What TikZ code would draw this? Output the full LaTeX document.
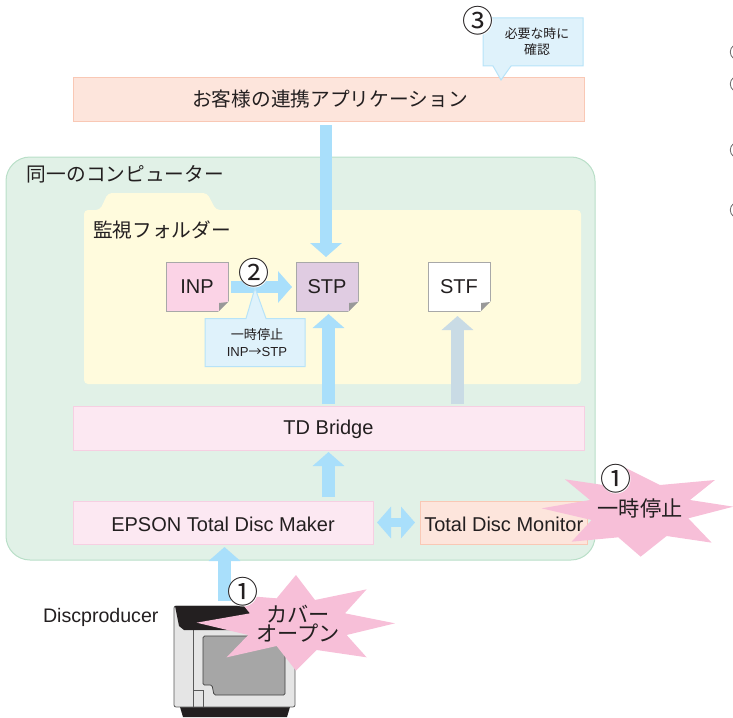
\documentclass[tikz,border=0pt]{standalone}
\usepackage{fontspec}
\setmainfont{Liberation Sans}
\newfontfamily\jp{Noto Sans CJK JP}
\usetikzlibrary{arrows.meta,calc}
\definecolor{ink}{HTML}{231F20}
\definecolor{arrowblue}{HTML}{A9DFFB}
\definecolor{arrowgrey}{HTML}{C9DBE5}
\definecolor{green1}{HTML}{E1F1E7}
\definecolor{green2}{HTML}{B9DFC8}
\definecolor{yellow1}{HTML}{FFFBDD}
\definecolor{peach1}{HTML}{FDE5DC}
\definecolor{peach2}{HTML}{F9C8B5}
\definecolor{pink1}{HTML}{FCE8F2}
\definecolor{pink2}{HTML}{F6CFE2}
\definecolor{inpfill}{HTML}{FBD3E6}
\definecolor{stpfill}{HTML}{E0CCE2}
\definecolor{callfill}{HTML}{DFF2FB}
\definecolor{callline}{HTML}{B7E3F8}
\definecolor{starpink}{HTML}{F7BFD8}
\tikzset{
  x=1pt,y=-1pt,
  every node/.style={inner sep=0pt,outer sep=0pt,text=ink,font=\fontsize{20}{22}\selectfont},
  barbox/.style={rectangle,draw=#1,line width=1pt,anchor=north west,align=center},
  docbox/.style={rectangle,draw=black!34,line width=1pt,anchor=north west,minimum width=62pt,minimum height=49pt},
  jptext/.style={font=\jp\fontsize{19.7}{21}\selectfont,anchor=west},
  startext/.style={font=\jp\fontsize{21.2}{17.5}\selectfont,align=center},
  numdot/.style={circle,fill=white,inner sep=-8pt,minimum size=29pt,font=\jp\fontsize{31}{31}\selectfont},
  bigarrow/.style={draw=#1,line width=12.5pt,-{Triangle[length=14pt,width=31pt,color=#1]}},
  bothway/.style={draw=arrowblue,line width=9pt,{Triangle[length=14pt,width=31pt,color=arrowblue]}-{Triangle[length=14pt,width=31pt,color=arrowblue]}},
}
\begin{document}
\begin{tikzpicture}
\useasboundingbox (0,0) rectangle (733,717);
\clip (0,0) rectangle (733,717);
% right-hand cropped marks
\foreach \yy in {52,84,150,210}
  \draw[ink!70,line width=.8pt] (734,\yy-7) .. controls (729,\yy-3) and (729,\yy+3) .. (734,\yy+7);
% computer panel
\node[barbox=green2,fill=green1,rounded corners=24pt,minimum width=589pt,minimum height=403pt] (pc) at (6,157) {};
\node[jptext] (pclabel) at (27,174) {同一のコンピューター};
% folder
\fill[yellow1,rounded corners=4pt] (84,210) -- (100,210) -- (108,193) -- (207,193) -- (216,210) -- (581,210) -- (581,384) -- (84,384) -- cycle;
\node[jptext] (folderlabel) at (93,230) {監視フォルダー};
% application
\node[barbox=peach2,fill=peach1,minimum width=511pt,minimum height=44pt,font=\jp\fontsize{19.7}{21}\selectfont] (app) at (73,77) {\hspace{3pt}お客様の連携アプリケーション};
% callout 3
\fill[callfill,draw=callline,line width=1pt,line join=miter] (483,18) -- (583,18) -- (583,66) -- (511,66) -- (501,80) -- (493,66) -- (483,66) -- cycle;
\node[font=\jp\fontsize{12.9}{16}\selectfont,align=center] (cap3) at (537,42) {必要な時に\\確認};
\node[numdot] (n3) at (478,21) {③};
% documents
\node[docbox,fill=inpfill] (inp) at (166,262) {INP};
\node[docbox,fill=stpfill] (stp) at (296,262) {STP};
\node[docbox,fill=white] (stf) at (428,262) {STF};
\foreach \d in {inp,stp,stf}{
  \fill[yellow1] (\d.south east) ++(1,1) -- ++(0,-11) -- ++(-11,11) -- cycle;
  \fill[black!40] (\d.south east) ++(0,-9) -- ++(-9,1) -- ++(0,8) -- cycle;
}
% TD Bridge, Disc Maker, Monitor
\node[barbox=pink2,fill=pink1,minimum width=511pt,minimum height=44pt,text height=16pt,text depth=4pt] (td) at (73,406) {TD Bridge};
\node[barbox=pink2,fill=pink1,minimum width=300pt,minimum height=43pt,text height=17pt,text depth=0pt] (maker) at (73,501) {EPSON Total Disc Maker};
\node[barbox=peach2,fill=peach1,minimum width=167.5pt,minimum height=43pt,text height=17pt,text depth=0pt] (monitor) at (420,501) {Total Disc Monitor};
% printer
\coordinate (printertop) at (218,606);
\fill[ink] (180,707) -- (290,707) -- (287,717) -- (183,717) -- cycle;
\fill[black!10,draw=black!65,line width=.8pt,rounded corners=2pt] (174,606) rectangle (295,707);
\draw[black!65,line width=.8pt] (193,630) -- (193,707) (193,690) -- (203,690) -- (203,707);
\fill[black!35,draw=black!75,line width=.7pt,rounded corners=1.5pt] (203,636) -- (285,636) -- (285,695) -- (214,695) -- (212,685) -- (203,685) -- cycle;
\fill[ink] (175,606) -- (291,606) -- (291,630) -- (184,630) -- (179,626) -- cycle;
% arrows
\coordinate (a1s) at (326,125);
\coordinate (a1e) at (326,257);
\draw[bigarrow=arrowblue] (a1s) -- (a1e);
\coordinate (a2s) at (328.5,404);
\coordinate (a2e) at (328.5,314);
\draw[bigarrow=arrowblue] (a2s) -- (a2e);
\coordinate (a3s) at (457.5,404);
\coordinate (a3e) at (457.5,316);
\draw[bigarrow=arrowgrey] (a3s) -- (a3e);
\coordinate (a4s) at (328.5,497);
\coordinate (a4e) at (328.5,452);
\draw[bigarrow=arrowblue] (a4s) -- (a4e);
\coordinate (a5s) at (224.5,601);
\coordinate (a5e) at (224.5,547);
\draw[bigarrow=arrowblue] (a5s) -- (a5e);
\coordinate (a6s) at (231,287);
\coordinate (a6e) at (292,287);
\draw[bigarrow=arrowblue] (a6s) -- (a6e);
\coordinate (a7s) at (377,522.5);
\coordinate (a7e) at (415,522.5);
\draw[bothway] (a7s) -- (a7e);
% callout 2
\fill[callfill,draw=callline,line width=1pt,line join=miter] (205,318.5) -- (246,318.5) -- (255,288) -- (266,318.5) -- (305,318.5) -- (305,366.5) -- (205,366.5) -- cycle;
\node[align=center,font=\fontsize{13.1}{17}\selectfont] (cap2) at (257,342.5) {{\jp 一時停止}\\INP{\jp →}STP};
\node[numdot] (n2) at (254,273) {②};
% star 1
\begin{scope}[shift={(370,450)},x=.3333pt,y=-.3333pt]
\fill[starpink] (515,175) -- (660,150) -- (585,88) -- (700,105) -- (770,55) -- (870,105) -- (1035,90) -- (960,150) -- (1090,170) -- (955,205) -- (1025,278) -- (890,258) -- (812,320) -- (745,262) -- (605,275) -- (665,210) -- cycle;
\end{scope}
\node[startext] (stop) at (640,508) {一時停止};
\node[numdot] (n1a) at (616,479) {①};
% star 2
\begin{scope}[shift={(0,560)},x=.3333pt,y=-.3333pt]
\fill[starpink] (590,188) -- (750,160) -- (705,105) -- (830,115) -- (888,45) -- (945,120) -- (1100,88) -- (1035,160) -- (1185,190) -- (1040,225) -- (1100,292) -- (950,270) -- (888,332) -- (830,258) -- (680,292) -- (745,225) -- cycle;
\end{scope}
\node[startext] (cover) at (298,624) {カバー\\オープン};
\node[numdot] (n1b) at (243,592) {①};
\node[anchor=west,font=\fontsize{19.6}{22}\selectfont] (dp) at (43,617) {Discproducer};
\end{tikzpicture}
\end{document}
